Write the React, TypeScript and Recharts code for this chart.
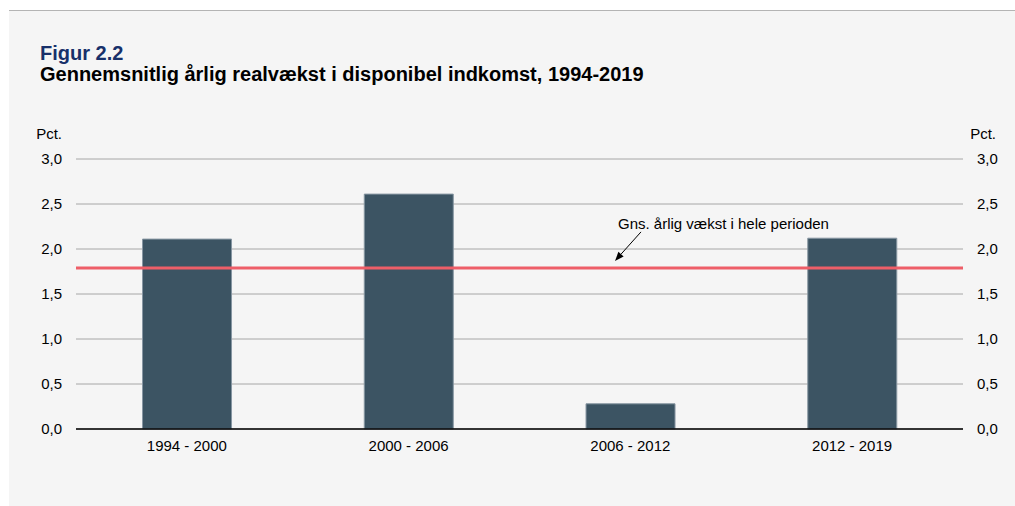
import React from 'react';
import {
  ComposedChart,
  Bar,
  Line,
  XAxis,
  YAxis,
  CartesianGrid,
  ReferenceLine,
} from 'recharts';

const periods = ['1994 - 2000', '2000 - 2006', '2006 - 2012', '2012 - 2019'];
const growth = [2.11, 2.61, 0.28, 2.12];
const averageGrowth = 1.79;
const yTicks = [0, 0.5, 1, 1.5, 2, 2.5, 3];
const edgeTicks = [0, 1, 2, 3, 4];

const data = periods.map((period, i) => ({ period, value: growth[i] }));

const FONT = 'Arial, "Liberation Sans", sans-serif';
const fmt = (v: number) => v.toFixed(1).replace('.', ',');

const PctLabel = ({ viewBox, side }: any) => {
  const x = side === 'left' ? viewBox.x + viewBox.width - 14 : viewBox.x + 33;
  return (
    <text
      x={x}
      y={viewBox.y - 20}
      textAnchor="end"
      fill="#000"
      fontSize={15}
      fontFamily={FONT}
    >
      Pct.
    </text>
  );
};

const AvgLabel = ({ viewBox }: any) => {
  const tipX = viewBox.x + 539;
  const tipY = viewBox.y - 7;
  const startX = tipX + 26;
  const startY = tipY - 29;
  // arrow head along the line direction
  const ang = Math.atan2(tipY - startY, tipX - startX);
  const len = 9;
  const w = 3.5;
  const bx = tipX - len * Math.cos(ang);
  const by = tipY - len * Math.sin(ang);
  const px = -Math.sin(ang) * w;
  const py = Math.cos(ang) * w;
  return (
    <g>
      <text
        x={viewBox.x + 542}
        y={viewBox.y - 39}
        fill="#000"
        fontSize={15}
        fontFamily={FONT}
      >
        Gns. årlig vækst i hele perioden
      </text>
      <line x1={startX} y1={startY} x2={bx} y2={by} stroke="#000" strokeWidth={1} />
      <polygon
        points={`${tipX},${tipY} ${bx + px},${by + py} ${bx - px},${by - py}`}
        fill="#000"
      />
    </g>
  );
};

export default function App() {
  return (
    <div
      style={{
        position: 'absolute',
        left: 0,
        top: 0,
        width: 1015,
        height: 506,
        fontFamily: FONT,
      }}
    >
      <div
        style={{
          position: 'absolute',
          left: 9,
          top: 10,
          width: 1006,
          height: 496,
          background: '#f5f5f5',
          borderTop: '1px solid #b4b4b4',
        }}
      />
      <div
        style={{
          position: 'absolute',
          left: 40,
          top: 43,
          fontSize: 20,
          lineHeight: '20px',
          fontWeight: 'bold',
          color: '#17306a',
          whiteSpace: 'nowrap',
        }}
      >
        Figur 2.2
      </div>
      <div
        style={{
          position: 'absolute',
          left: 40,
          top: 64,
          fontSize: 20,
          lineHeight: '20px',
          fontWeight: 'bold',
          color: '#000',
          whiteSpace: 'nowrap',
        }}
      >
        Gennemsnitlig årlig realvækst i disponibel indkomst, 1994-2019
      </div>
      <div style={{ position: 'absolute', left: 0, top: 0 }}>
        <ComposedChart
          width={1015}
          height={506}
          data={data}
          margin={{ top: 159, right: 0, bottom: 47, left: 0 }}
          barCategoryGap="30%"
        >
          <CartesianGrid
            xAxisId="labels"
            yAxisId="left"
            vertical={false}
            stroke="#a6a6a6"
            strokeWidth={1}
          />
          <XAxis
            xAxisId="base"
            type="number"
            domain={[0, 4]}
            ticks={edgeTicks}
            tick={false}
            height={1}
            axisLine={{ stroke: '#000', strokeWidth: 1.5 }}
            tickLine={{ stroke: '#000' }}
            tickSize={5}
          />
          <XAxis
            xAxisId="labels"
            dataKey="period"
            height={29}
            axisLine={false}
            tickLine={false}
            tickSize={0}
            tickMargin={10}
            tick={{ fill: '#000', fontSize: 15, fontFamily: FONT }}
          />
          <YAxis
            yAxisId="left"
            width={76}
            domain={[0, 3]}
            ticks={yTicks}
            tickFormatter={fmt}
            axisLine={false}
            tickLine={false}
            tickSize={0}
            tickMargin={14}
            tick={{ fill: '#000', fontSize: 15, fontFamily: FONT }}
            label={{ content: (p: any) => <PctLabel {...p} side="left" /> }}
          />
          <YAxis
            yAxisId="right"
            orientation="right"
            width={52}
            domain={[0, 3]}
            ticks={yTicks}
            tickFormatter={fmt}
            axisLine={false}
            tickLine={false}
            tickSize={0}
            tickMargin={14}
            tick={{ fill: '#000', fontSize: 15, fontFamily: FONT }}
            label={{ content: (p: any) => <PctLabel {...p} side="right" /> }}
          />
          <Bar
            xAxisId="labels"
            yAxisId="left"
            dataKey="value"
            fill="#3c5463"
            stroke="#8796a2"
            strokeWidth={1}
            isAnimationActive={false}
          />
          <Line
            xAxisId="labels"
            yAxisId="right"
            dataKey="value"
            stroke="none"
            dot={false}
            activeDot={false}
            legendType="none"
            isAnimationActive={false}
          />
          <ReferenceLine
            xAxisId="labels"
            yAxisId="left"
            y={averageGrowth}
            stroke="#ee5e68"
            strokeWidth={3}
            label={{ content: (p: any) => <AvgLabel {...p} /> }}
          />
        </ComposedChart>
      </div>
    </div>
  );
}
